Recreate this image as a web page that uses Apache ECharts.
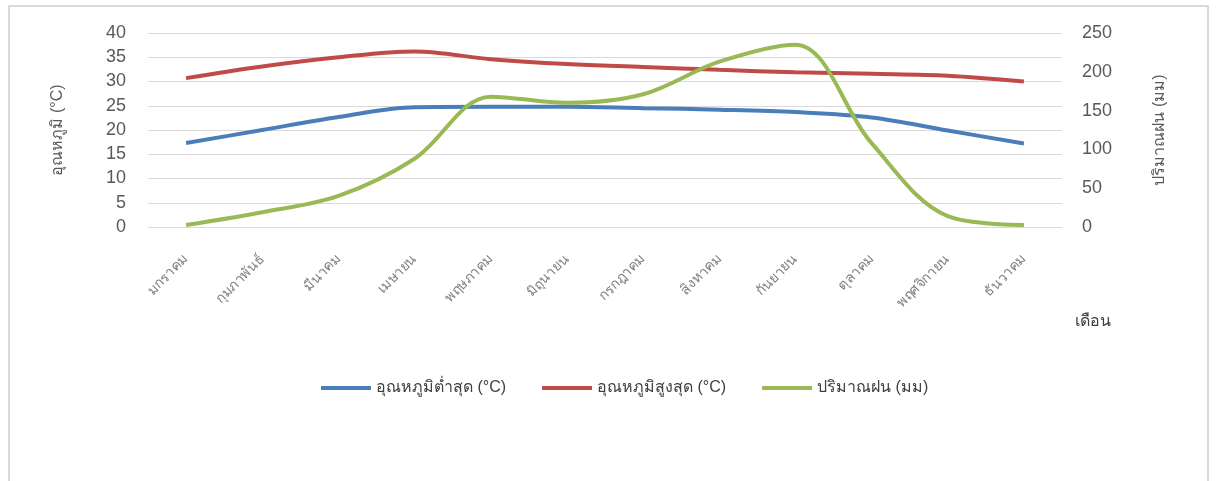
<!DOCTYPE html>
<html>
<head>
<meta charset="utf-8">
<script src="https://cdn.jsdelivr.net/npm/echarts@6/dist/echarts.min.js"></script>
<style>
  html, body { margin: 0; padding: 0; background: #fff; }
  #frame { position: absolute; left: 8px; top: 5px; width: 1201px; height: 520px; border: 2px solid #d9d9d9; box-sizing: border-box; }
  #chart { position: absolute; left: 0; top: 0; width: 1216px; height: 481px; }
</style>
</head>
<body>
<div id="frame"></div>
<div id="chart"></div>
<script>
// Monthly climate summary: temperatures (left axis) and rainfall (right axis)
const months = ['มกราคม', 'กุมภาพันธ์', 'มีนาคม', 'เมษายน', 'พฤษภาคม', 'มิถุนายน',
                'กรกฎาคม', 'สิงหาคม', 'กันยายน', 'ตุลาคม', 'พฤศจิกายน', 'ธันวาคม'];
const tempMin = [17.3, 20.0, 22.7, 24.7, 24.8, 24.8, 24.5, 24.2, 23.7, 22.6, 19.9, 17.2];
const tempMax = [30.7, 33.1, 35.0, 36.2, 34.6, 33.6, 33.0, 32.4, 31.9, 31.6, 31.2, 30.0];
const rainfall = [2.5, 19, 40, 88, 168, 160, 171, 213, 235, 108, 14, 2.5];

const seriesNames = ['อุณหภูมิต่ำสุด (°C)', 'อุณหภูมิสูงสุด (°C)', 'ปริมาณฝน (มม)'];
const seriesColors = ['#4a7ebb', '#be4b48', '#98b954'];

const font = '"Liberation Sans", "Noto Sans", sans-serif';
const chart = echarts.init(document.getElementById('chart'));

chart.setOption({
  animation: false,
  textStyle: { fontFamily: font },
  grid: { left: 148, right: 154, top: 33, bottom: 254, containLabel: false },
  legend: {
    left: 316,
    top: 375,
    itemWidth: 50,
    itemHeight: 4,
    itemGap: 36,
    icon: 'rect',
    textStyle: { fontSize: 16, color: '#404040', fontFamily: font },
    data: seriesNames
  },
  xAxis: {
    type: 'category',
    data: months,
    boundaryGap: true,
    axisLine: { show: false },
    axisTick: { show: false },
    axisLabel: { rotate: 45, margin: 30, fontSize: 14, color: '#7f7f7f', interval: 0 }
  },
  yAxis: [
    {
      type: 'value',
      min: 0, max: 40, interval: 5,
      name: 'อุณหภูมิ (°C)',
      nameLocation: 'middle',
      nameGap: 82,
      nameRotate: 90,
      nameTextStyle: { fontSize: 16, color: '#595959' },
      axisLine: { show: false },
      axisTick: { show: false },
      axisLabel: { fontSize: 18, color: '#595959', margin: 22 },
      splitLine: { lineStyle: { color: '#d9d9d9', width: 1 } }
    },
    {
      type: 'value',
      min: 0, max: 250, interval: 50,
      name: 'ปริมาณฝน (มม)',
      nameLocation: 'middle',
      nameGap: 90,
      nameRotate: 90,
      nameTextStyle: { fontSize: 16, color: '#595959' },
      axisLine: { show: false },
      axisTick: { show: false },
      axisLabel: { fontSize: 18, color: '#595959', margin: 20 },
      splitLine: { show: false }
    }
  ],
  graphic: [
    {
      type: 'text',
      left: 1075,
      top: 314,
      style: { text: 'เดือน', fontSize: 16, fill: '#404040', fontFamily: font }
    }
  ],
  series: [
    { name: seriesNames[0], type: 'line', yAxisIndex: 0, data: tempMin, smooth: 0.35,
      showSymbol: false, lineStyle: { width: 4, color: seriesColors[0] }, itemStyle: { color: seriesColors[0] } },
    { name: seriesNames[1], type: 'line', yAxisIndex: 0, data: tempMax, smooth: 0.35,
      showSymbol: false, lineStyle: { width: 4, color: seriesColors[1] }, itemStyle: { color: seriesColors[1] } },
    { name: seriesNames[2], type: 'line', yAxisIndex: 1, data: rainfall, smooth: 0.35,
      showSymbol: false, lineStyle: { width: 4, color: seriesColors[2] }, itemStyle: { color: seriesColors[2] } }
  ]
});
</script>
</body>
</html>
